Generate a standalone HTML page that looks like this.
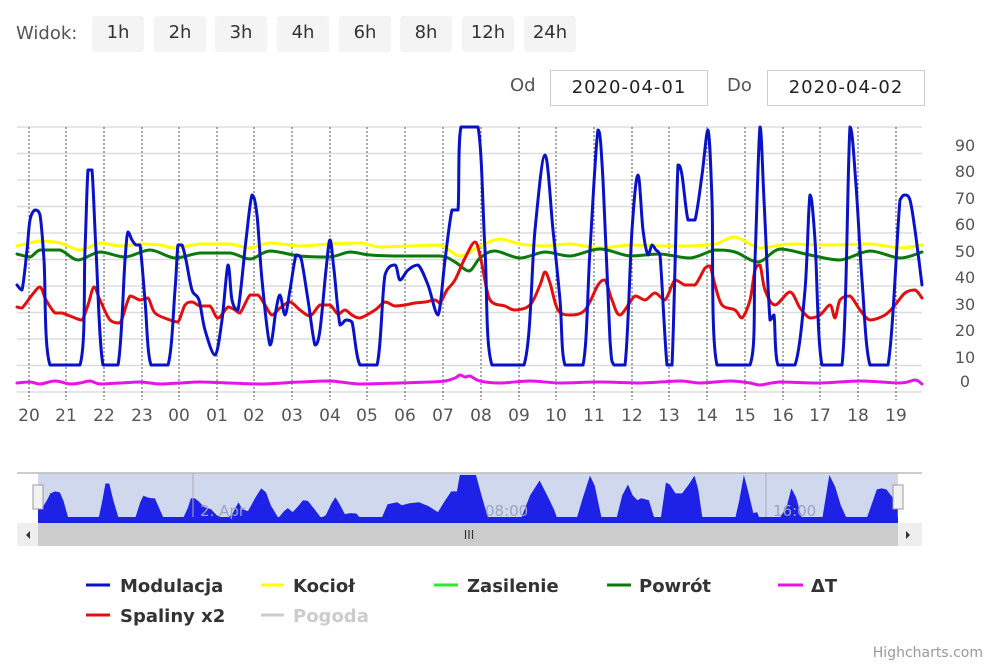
<!DOCTYPE html>
<html><head><meta charset="utf-8"><style>
body{margin:0;width:1000px;height:666px;background:#fff;font-family:"DejaVu Sans","Liberation Sans",sans-serif;overflow:hidden;position:relative}
.t{position:absolute;color:#555;font-size:18px}
.b{position:absolute;top:16px;height:36px;background:#f4f4f4;border-radius:3px;font-size:18px;color:#333;text-align:center;line-height:34px}
.in{position:absolute;top:70px;height:34px;border:1px solid #ccc;font-size:18px;color:#222;text-align:center;line-height:34px;letter-spacing:1px}
</style></head><body>
<div class="t" style="left:16px;top:23px">Widok:</div>
<div class="b" style="left:92px;width:52px">1h</div>
<div class="b" style="left:154px;width:52px">2h</div>
<div class="b" style="left:215px;width:52px">3h</div>
<div class="b" style="left:277px;width:52px">4h</div>
<div class="b" style="left:339px;width:52px">6h</div>
<div class="b" style="left:400px;width:52px">8h</div>
<div class="b" style="left:462px;width:52px">12h</div>
<div class="b" style="left:524px;width:52px">24h</div>
<div class="t" style="left:510px;top:75px">Od</div>
<div class="in" style="left:550px;width:156px">2020-04-01</div>
<div class="t" style="left:727px;top:75px">Do</div>
<div class="in" style="left:767px;width:156px">2020-04-02</div>
<svg width="1000" height="666" style="position:absolute;left:0;top:0" font-family="DejaVu Sans, Liberation Sans, sans-serif">
<g stroke="#ddd" stroke-width="1.5">
<line x1="17" x2="922" y1="127" y2="127"/><line x1="17" x2="922" y1="153.5" y2="153.5"/><line x1="17" x2="922" y1="180" y2="180"/><line x1="17" x2="922" y1="206.5" y2="206.5"/><line x1="17" x2="922" y1="233" y2="233"/><line x1="17" x2="922" y1="259.5" y2="259.5"/><line x1="17" x2="922" y1="286" y2="286"/><line x1="17" x2="922" y1="312.5" y2="312.5"/><line x1="17" x2="922" y1="339" y2="339"/><line x1="17" x2="922" y1="365.5" y2="365.5"/><line x1="17" x2="922" y1="392" y2="392"/>
</g>
<g stroke="#555" stroke-width="1" stroke-dasharray="2,2">
<line x1="29" x2="29" y1="127" y2="400"/><line x1="66" x2="66" y1="127" y2="400"/><line x1="104" x2="104" y1="127" y2="400"/><line x1="142" x2="142" y1="127" y2="400"/><line x1="179" x2="179" y1="127" y2="400"/><line x1="217" x2="217" y1="127" y2="400"/><line x1="254" x2="254" y1="127" y2="400"/><line x1="292" x2="292" y1="127" y2="400"/><line x1="330" x2="330" y1="127" y2="400"/><line x1="367" x2="367" y1="127" y2="400"/><line x1="405" x2="405" y1="127" y2="400"/><line x1="443" x2="443" y1="127" y2="400"/><line x1="481" x2="481" y1="127" y2="400"/><line x1="519" x2="519" y1="127" y2="400"/><line x1="556" x2="556" y1="127" y2="400"/><line x1="594" x2="594" y1="127" y2="400"/><line x1="632" x2="632" y1="127" y2="400"/><line x1="669" x2="669" y1="127" y2="400"/><line x1="707" x2="707" y1="127" y2="400"/><line x1="745" x2="745" y1="127" y2="400"/><line x1="783" x2="783" y1="127" y2="400"/><line x1="820" x2="820" y1="127" y2="400"/><line x1="858" x2="858" y1="127" y2="400"/><line x1="896" x2="896" y1="127" y2="400"/>
</g>
<g fill="#555" font-size="17" text-anchor="middle">
<text x="29" y="421">20</text><text x="66" y="421">21</text><text x="104" y="421">22</text><text x="142" y="421">23</text><text x="179" y="421">00</text><text x="217" y="421">01</text><text x="254" y="421">02</text><text x="292" y="421">03</text><text x="330" y="421">04</text><text x="367" y="421">05</text><text x="405" y="421">06</text><text x="443" y="421">07</text><text x="481" y="421">08</text><text x="519" y="421">09</text><text x="556" y="421">10</text><text x="594" y="421">11</text><text x="632" y="421">12</text><text x="669" y="421">13</text><text x="707" y="421">14</text><text x="745" y="421">15</text><text x="783" y="421">16</text><text x="820" y="421">17</text><text x="858" y="421">18</text><text x="896" y="421">19</text>
</g>
<g fill="#555" font-size="16" text-anchor="middle">
<text x="965" y="151">90</text><text x="965" y="177">80</text><text x="965" y="204">70</text><text x="965" y="230">60</text><text x="965" y="257">50</text><text x="965" y="283">40</text><text x="965" y="310">30</text><text x="965" y="336">20</text><text x="965" y="363">10</text><text x="965" y="387">0</text>
</g>
<g fill="none" stroke-width="3" stroke-linejoin="round" stroke-linecap="round" class="sm">
<polyline stroke="#ff0" points="17,246 40,241 60,243 80,250 100,243 120,246 140,244 160,245 175,248 200,244 230,244 250,248 270,243 300,246 330,244 360,243 380,247 410,246 440,245 460,256 480,246 500,239 520,244 545,246 570,244 600,248 630,245 660,246 690,246 715,244 735,237 760,248 790,244 830,245 870,244 900,248 922,245"/>
<polyline stroke="#0a7a0a" points="17,254 30,257 40,250 60,250 78,260 100,252 125,257 150,250 175,258 200,253 230,253 250,259 270,251 300,256 330,257 350,252 370,255 400,256 440,256 455,262 469,271 480,258 495,251 520,258 545,252 570,256 600,249 630,256 660,254 690,258 715,250 735,252 758,262 780,249 810,255 840,260 870,251 900,258 922,252"/>
<polyline stroke="#e01010" points="17,307 22,308 32,295 40,287 46,300 55,313 62,313 75,318 82,320 88,305 94,287 100,300 110,320 120,323 130,296 140,300 148,298 155,313 170,320 178,322 185,305 192,302 200,306 210,306 218,318 228,307 235,310 240,313 250,295 258,295 265,305 272,315 280,308 290,302 300,310 310,316 320,305 330,305 338,314 345,310 352,315 360,318 375,310 385,302 395,306 405,305 415,303 425,302 435,300 440,303 447,290 455,280 465,258 475,242 481,260 490,300 505,306 515,310 530,305 540,285 545,272 550,283 558,310 570,315 585,310 598,285 605,280 612,300 620,315 635,296 645,300 655,293 665,300 675,280 685,285 695,285 705,268 710,266 715,285 722,305 735,310 742,318 750,300 755,270 760,265 765,290 775,305 790,292 800,308 810,318 820,315 830,305 835,318 840,300 850,296 860,310 870,320 885,315 895,305 905,293 915,290 922,298"/>
<polyline stroke="#e614e6" points="17,383 30,382 40,384 55,381 70,384 80,383 90,381 100,384 120,383 140,382 160,384 180,383 200,382 230,383 260,384 300,382 330,381 360,384 400,383 430,382 445,381 455,378 460,375 465,377 470,376 480,381 500,383 530,381 560,383 600,382 640,383 680,381 700,383 730,381 750,383 760,385 780,382 820,383 860,381 900,383 915,380 922,384"/>
<polyline stroke="#0a12c8" points="17,285 22,290 27,250 30,220 35,210 40,215 44,260 50,365 80,365 85,250 88,170 92,170 96,250 103,365 118,365 125,260 128,232 132,240 136,245 140,245 145,300 151,365 168,365 175,290 178,245 182,245 186,260 192,290 199,300 205,330 215,355 222,320 228,265 232,300 238,310 246,240 252,195 257,215 262,280 270,345 276,310 280,295 285,315 290,290 296,255 301,258 308,300 315,345 320,330 326,270 330,240 334,270 340,325 346,320 352,322 360,365 377,365 385,275 395,265 400,280 408,270 418,265 428,285 438,315 445,260 452,210 458,210 461,127 478,127 485,250 492,365 524,365 535,230 545,155 553,230 560,300 565,365 583,365 590,250 598,130 603,180 610,340 614,365 625,365 632,230 638,175 643,230 648,255 652,245 656,250 660,255 667,365 672,365 678,165 682,175 688,220 695,220 702,175 708,130 712,200 717,365 750,365 755,260 760,127 764,200 770,320 774,315 778,365 795,365 805,290 810,195 815,240 822,365 842,365 850,127 856,185 862,280 870,365 888,365 900,200 905,195 910,200 915,230 922,285"/>
</g>
<rect x="17" y="473" width="905" height="50" fill="#fff"/>
<rect x="38" y="473" width="860" height="50" fill="#d0d8ee"/>
<line x1="17" x2="922" y1="473" y2="473" stroke="#bbb" stroke-width="1.5"/>
<g transform="translate(21.85,449.9) scale(0.95,0.1975)">
<polygon fill="#1e22e6" points="17,368 17,285 22,290 27,250 30,220 35,210 40,215 44,260 50,365 80,365 85,250 88,170 92,170 96,250 103,365 118,365 125,260 128,232 132,240 136,245 140,245 145,300 151,365 168,365 175,290 178,245 182,245 186,260 192,290 199,300 205,330 215,355 222,320 228,265 232,300 238,310 246,240 252,195 257,215 262,280 270,345 276,310 280,295 285,315 290,290 296,255 301,258 308,300 315,345 320,330 326,270 330,240 334,270 340,325 346,320 352,322 360,365 377,365 385,275 395,265 400,280 408,270 418,265 428,285 438,315 445,260 452,210 458,210 461,127 478,127 485,250 492,365 524,365 535,230 545,155 553,230 560,300 565,365 583,365 590,250 598,130 603,180 610,340 614,365 625,365 632,230 638,175 643,230 648,255 652,245 656,250 660,255 667,365 672,365 678,165 682,175 688,220 695,220 702,175 708,130 712,200 717,365 750,365 755,260 760,127 764,200 770,320 774,315 778,365 795,365 805,290 810,195 815,240 822,365 842,365 850,127 856,185 862,280 870,365 888,365 900,200 905,195 910,200 915,230 922,285 922,380"/>
</g>
<rect x="38" y="517" width="860" height="6" fill="#1e22e6"/>
<line x1="193" x2="193" y1="473" y2="517" stroke="#aab" stroke-width="1"/>
<line x1="766" x2="766" y1="473" y2="517" stroke="#aab" stroke-width="1"/>
<g fill="#9aa3bf" font-size="15"><text x="200" y="516">2. Apr</text><text x="485" y="516">08:00</text><text x="773" y="516">16:00</text></g>
<rect x="33" y="485" width="10" height="24" fill="#f2f2f2" stroke="#999"/>
<rect x="893" y="485" width="10" height="24" fill="#f2f2f2" stroke="#999"/>
<rect x="17" y="523" width="905" height="23" fill="#eee"/>
<rect x="38" y="523" width="860" height="23" fill="#ccc"/>
<text x="469" y="539" font-size="12" fill="#333" text-anchor="middle">III</text>
<polygon points="30,531 30,539 26,535" fill="#333"/><polygon points="906,531 906,539 910,535" fill="#333"/>
<g font-size="18" font-weight="bold" fill="#333">
<line x1="86" x2="110" y1="585" y2="585" stroke="#0a12c8" stroke-width="3"/><text x="120" y="592">Modulacja</text>
<line x1="261" x2="284" y1="585" y2="585" stroke="#ff0" stroke-width="3"/><text x="293" y="592">Kocioł</text>
<line x1="434" x2="458" y1="585" y2="585" stroke="#2ee82e" stroke-width="3"/><text x="467" y="592">Zasilenie</text>
<line x1="607" x2="631" y1="585" y2="585" stroke="#0a7a0a" stroke-width="3"/><text x="639" y="592">Powrót</text>
<line x1="778" x2="803" y1="585" y2="585" stroke="#e614e6" stroke-width="3"/><text x="811" y="592">ΔT</text>
<line x1="86" x2="110" y1="615" y2="615" stroke="#e01010" stroke-width="3"/><text x="120" y="622">Spaliny x2</text>
<line x1="261" x2="284" y1="615" y2="615" stroke="#ccc" stroke-width="3"/><text x="293" y="622" fill="#ccc">Pogoda</text>
</g>
<text x="983" y="657" font-size="14" fill="#999" text-anchor="end">Highcharts.com</text>
</svg>
<script>
document.querySelectorAll('.sm polyline').forEach(function(pl){
 var p=pl.getAttribute('points').trim().split(/\s+/).map(function(s){return s.split(',').map(Number)});
 var d='M'+p[0][0]+','+p[0][1];
 for(var i=0;i<p.length-1;i++){
  var p0=p[i-1]||p[i],p1=p[i],p2=p[i+1],p3=p[i+2]||p2;
  var lo=Math.min(p1[1],p2[1]),hi=Math.max(p1[1],p2[1]);
  var c1x=p1[0]+(p2[0]-p0[0])/6,c1y=p1[1]+(p2[1]-p0[1])/6,c2x=p2[0]-(p3[0]-p1[0])/6,c2y=p2[1]-(p3[1]-p1[1])/6;
  c1y=Math.max(lo,Math.min(hi,c1y));c2y=Math.max(lo,Math.min(hi,c2y));
  d+=' C'+c1x+','+c1y+' '+c2x+','+c2y+' '+p2[0]+','+p2[1];
 }
 var path=document.createElementNS('http://www.w3.org/2000/svg','path');
 path.setAttribute('d',d);path.setAttribute('stroke',pl.getAttribute('stroke'));
 pl.parentNode.replaceChild(path,pl);
});
</script>
</body></html>
